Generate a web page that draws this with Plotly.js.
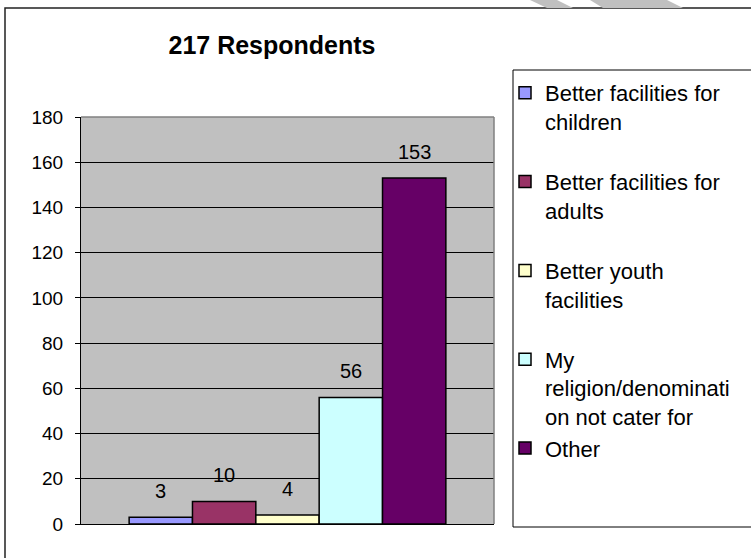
<!DOCTYPE html>
<html>
<head>
<meta charset="utf-8">
<script src="https://cdn.plot.ly/plotly-3.0.1.min.js"></script>
<style>html,body{margin:0;padding:0;background:#fff;}#chart{width:751px;height:558px;}</style>
</head>
<body>
<div id="chart"></div>
<script>
var chartTitle = "217 Respondents";
var seriesNames = [
  "Better facilities for<br>children<br>&nbsp;",
  "Better facilities for<br>adults<br>&nbsp;",
  "Better youth<br>facilities<br>&nbsp;",
  "My<br>religion/denominati<br>on not cater for",
  "Other"
];
var seriesValues = [3, 10, 4, 56, 153];
var seriesColors = ["#9999FF", "#993366", "#FFFFCC", "#CCFFFF", "#660066"];
var yTickValues = [0, 20, 40, 60, 80, 100, 120, 140, 160, 180];

var FONT = "Liberation Sans, Arial, sans-serif";

// one bar slot per series, side by side inside the single category
var traces = seriesNames.map(function (n, i) {
  return {
    type: "bar",
    name: n,
    x: [i],
    y: [seriesValues[i]],
    width: [1],
    marker: { color: seriesColors[i], line: { color: "#000", width: 1.5 } },
    hoverinfo: "skip"
  };
});

var labels = seriesValues.map(function (v, i) {
  return {
    xref: "x", yref: "y", x: i, y: v,
    text: String(v), showarrow: false,
    yanchor: "middle", yshift: 26,
    font: { family: FONT, size: 20, color: "#000" }
  };
});

// pixel helpers for paper coordinates (plot area 81..494 x 117..524)
function px(x) { return (x - 81) / 413; }
function py(y) { return (524 - y) / 407; }

var layout = {
  width: 751, height: 558,
  margin: { l: 81, r: 257, t: 117, b: 34 },
  paper_bgcolor: "#fff",
  plot_bgcolor: "#C0C0C0",
  barmode: "overlay",
  showlegend: true,
  font: { family: FONT, color: "#000" },
  title: {
    text: chartTitle,
    font: { family: FONT, size: 25, weight: "bold", color: "#000" },
    x: 272 / 751, xanchor: "center", xref: "container",
    y: 1 - 45 / 558, yanchor: "middle", yref: "container"
  },
  xaxis: {
    range: [-1.26, 5.26],
    showticklabels: false,
    showgrid: false,
    zeroline: false,
    showline: true, linecolor: "#000", linewidth: 1,
    ticks: "",
    fixedrange: true
  },
  yaxis: {
    range: [0, 180],
    tickvals: yTickValues,
    ticktext: yTickValues.map(String),
    showgrid: true, gridcolor: "#000", gridwidth: 1,
    zeroline: true, zerolinecolor: "#000", zerolinewidth: 1,
    showline: true, linecolor: "#000", linewidth: 1,
    ticks: "outside", ticklen: 5, tickcolor: "#000",
    ticklabelstandoff: 8,
    tickfont: { family: FONT, size: 19, color: "#000" },
    fixedrange: true
  },
  legend: {
    x: px(505), xanchor: "left", xref: "paper",
    y: py(72), yanchor: "top", yref: "paper",
    maxheight: 540,
    bgcolor: "rgba(0,0,0,0)",
    borderwidth: 0,
    valign: "top",
    traceorder: "normal",
    itemwidth: 30,
    itemclick: false, itemdoubleclick: false,
    font: { family: FONT, size: 22, color: "#000" }
  },
  annotations: labels,
  shapes: [
    // outer chart border
    { type: "rect", xref: "paper", yref: "paper", x0: px(5), x1: px(800), y0: py(600), y1: py(8),
      line: { color: "#222", width: 1.5 }, fillcolor: "rgba(0,0,0,0)", layer: "below" },
    // legend box
    { type: "rect", xref: "paper", yref: "paper", x0: px(513), x1: px(800), y0: py(527), y1: py(70),
      line: { color: "#000", width: 1 }, fillcolor: "rgba(0,0,0,0)", layer: "below" },
    // plot area gray border: top and right
    { type: "line", xref: "paper", yref: "paper", x0: 0, x1: 1, y0: 1, y1: 1, line: { color: "#808080", width: 1.5 } },
    { type: "line", xref: "paper", yref: "paper", x0: 1, x1: 1, y0: 0, y1: 1, line: { color: "#808080", width: 1.5 } },
    // faint watermark strokes at top edge
    { type: "path", xref: "paper", yref: "paper",
      path: "M" + px(530) + "," + py(0) + " L" + px(557) + "," + py(0) + " L" + px(573) + "," + py(8) + " L" + px(547) + "," + py(8) + " Z",
      fillcolor: "#C0C0C0", line: { width: 0 }, layer: "below" },
    { type: "path", xref: "paper", yref: "paper",
      path: "M" + px(590) + "," + py(0) + " L" + px(667) + "," + py(0) + " L" + px(683) + "," + py(8) + " L" + px(603) + "," + py(8) + " Z",
      fillcolor: "#C0C0C0", line: { width: 0 }, layer: "below" }
  ]
};

Plotly.newPlot("chart", traces, layout, { displayModeBar: false, staticPlot: true });
</script>
</body>
</html>
